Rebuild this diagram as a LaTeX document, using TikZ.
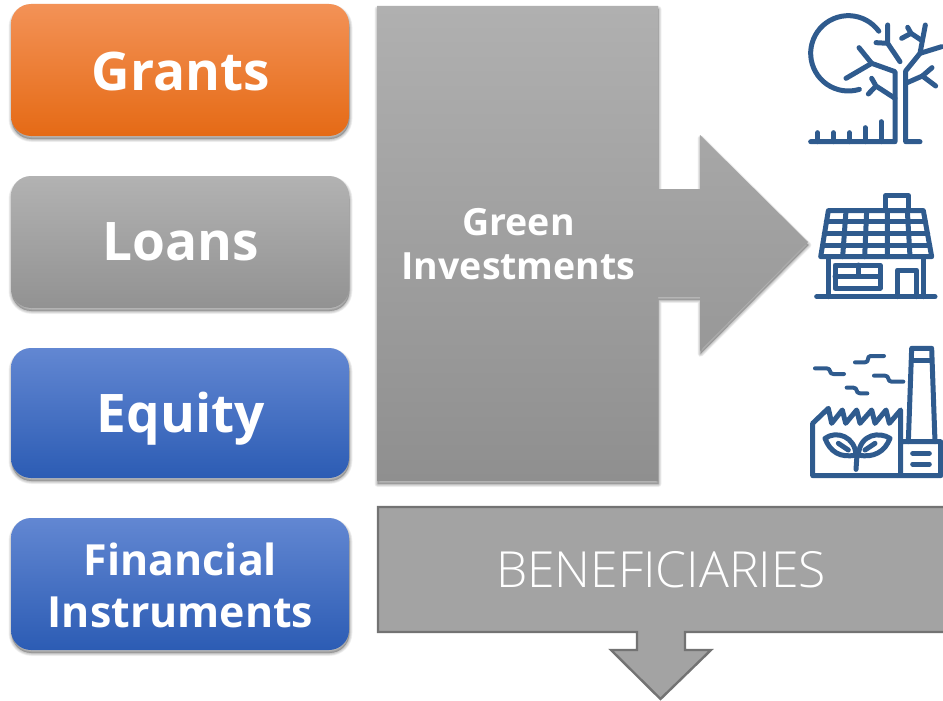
\documentclass[tikz,border=0pt]{standalone}
\usepackage{fontspec}
\setmainfont{Open Sans}
\newfontfamily\lightfont{Open Sans Light}
\usetikzlibrary{shapes.misc}
\definecolor{iconblue}{HTML}{2F5B8E}
\newcommand{\softshadow}[1]{%
  \foreach \w in {1,2,3,4,5,6}{
    \path[fill=black,draw=black,fill opacity=.045,draw opacity=.045,line width=\w pt,line join=round,yshift=-3pt,xshift=0.5pt] #1;
  }}
\tikzset{
  fund/.style={rounded corners=20pt,minimum width=338pt,text=white,font=\bfseries,align=center,inner sep=0pt},
  orangefill/.style={top color=F1,middle color=F2,bottom color=F3},
  greyfill/.style={top color=G1,middle color=G2,bottom color=G3},
  bluefill/.style={top color=B1,middle color=B2,bottom color=B3},
  icon/.style={draw=iconblue,line width=5pt,line cap=round,line join=round},
  iconz/.style={x=1pt,y=-1pt,scale=1/3},
  thinicon/.style={icon,line width=4pt},
}
\definecolor{F1}{HTML}{F39257}\definecolor{F2}{HTML}{F67F26}\definecolor{F3}{HTML}{E56A15}
\definecolor{G1}{HTML}{B2B2B2}\definecolor{G2}{HTML}{A5A5A5}\definecolor{G3}{HTML}{929292}
\definecolor{B1}{HTML}{6287D2}\definecolor{B2}{HTML}{4472C4}\definecolor{B3}{HTML}{2C5CB4}
\definecolor{A1}{HTML}{B0B0B0}\definecolor{A2}{HTML}{8F8F8F}
\begin{document}
\begin{tikzpicture}[x=1pt,y=-1pt]
\useasboundingbox (0,0) rectangle (943,701);
% shadows
\softshadow{[rounded corners=20pt] (11,4) rectangle (349,136)}
\softshadow{[rounded corners=20pt] (11,176) rectangle (349,308)}
\softshadow{[rounded corners=20pt] (11,348) rectangle (349,478)}
\softshadow{[rounded corners=20pt] (11,518) rectangle (349,650)}
\softshadow{(377,6) -- (658,6) -- (658,189) -- (700,189) -- (700,135) -- (808,242) -- (700,351) -- (700,297) -- (658,297) -- (658,481) -- (377,481) -- cycle}
% funding boxes
\node[fund,orangefill,minimum height=132pt] (grants) at (180,70) {};
\node[fund,greyfill,minimum height=132pt] (loans) at (180,242) {};
\node[fund,bluefill,minimum height=130pt] (equity) at (180,413) {};
\node[fund,bluefill,minimum height=132pt] (fin) at (180,584) {};
\node[text=white,inner sep=0pt,font=\bfseries\fontsize{53.2}{60}\selectfont] (grantst) at (181,71) {Grants};
\node[text=white,inner sep=0pt,font=\bfseries\fontsize{53.2}{60}\selectfont] (loanst) at (181,242) {Loans};
\node[text=white,inner sep=0pt,font=\bfseries\fontsize{53.2}{60}\selectfont] (equityt) at (181,419) {Equity};
\node[text=white,align=center,inner sep=0pt,font=\bfseries\fontsize{42.9}{52}\selectfont] (fint) at (180.5,585) {Financial\\Instruments};
% big arrow
\shade[top color=A1,bottom color=A2] (377,6) -- (658,6) -- (658,189) -- (700,189) -- (700,135) -- (808,242) -- (700,351) -- (700,297) -- (658,297) -- (658,481) -- (377,481) -- cycle;
\node[text=white,align=center,inner sep=0pt,font=\bfseries\fontsize{37.5}{44}\selectfont] (green) at (518.5,244) {Green\\Investments};
% beneficiaries
\filldraw[fill=black!36,draw=black!55,line width=2.4pt,line join=miter] (378,507) -- (945,507) -- (945,632) -- (685,632) -- (685,650) -- (711,650) -- (660.5,699) -- (611,650) -- (637,650) -- (637,632) -- (378,632) -- cycle;
\node[text=white,inner sep=0pt,font=\lightfont\fontsize{49.8}{54}\selectfont] (benef) at (661,570) {BENEFICIARIES};
% tree
\begin{scope}[shift={(780,0)},iconz]
\draw[icon] plot[smooth,domain=-36:-287,samples=40] ({205+113*cos(\x)},{160+113*sin(\x)});
\draw[icon] (92,425) -- (345,425) -- (345,215) -- (275,190) -- (237,143);
\draw[icon] (275,190) -- (198,235);
\draw[icon] (345,295) -- (288,258) -- (275,235);
\draw[icon] (288,258) -- (265,282);
\draw[icon] (113,425) -- (113,398) (160,425) -- (160,398) (208,425) -- (208,398) (255,425) -- (255,383) (303,425) -- (303,365);
\draw[icon] (420,425) -- (377,425) -- (377,213) -- (420,160) -- (436,75);
\draw[icon] (420,160) -- (485,140);
\draw[icon] (423,120) -- (393,100) -- (383,82);
\draw[icon] (393,100) -- (365,115);
\draw[icon] (377,250) -- (427,228) -- (456,203);
\draw[icon] (427,228) -- (467,258);
\draw[icon] (323,75) -- (323,130) -- (360,185);
\draw[icon] (323,130) -- (288,128);
\end{scope}
% house
\begin{scope}[shift={(780,180)},iconz]
\draw[icon] (317,90) -- (317,47) -- (385,47) -- (385,90);
\draw[icon] (145,92) -- (430,92) -- (455,230) -- (122,230) -- cycle;
\draw[icon] (139,125) -- (436,125) (133,160) -- (443,160) (128,195) -- (449,195);
\draw[icon] (198,92) -- (188,230) (260,92) -- (254,230) (322,92) -- (322,230) (382,92) -- (390,230);
\draw[icon] (145,232) -- (145,350) (430,232) -- (430,350);
\draw[icon] (110,350) -- (465,350);
\draw[icon] (165,255) rectangle (300,325);
\draw[icon] (165,288) -- (300,288) (235,255) -- (235,288);
\draw[icon] (352,350) -- (352,270) -- (410,270) -- (410,350);
\end{scope}
% factory
\begin{scope}[shift={(780,340)},iconz]
\draw[icon] (385,305) -- (395,25) -- (455,25) -- (465,305);
\draw[icon] (398,60) -- (452,60);
\draw[icon] (362,305) -- (482,305) -- (482,407) -- (98,407) -- (98,250) -- (145,205) -- (155,250) -- (187,210) -- (197,250) -- (230,210) -- (240,250) -- (275,210) -- (285,250) -- (318,210) -- (328,250) -- (362,210) -- (362,407);
\draw[icon] (398,340) -- (448,340) (398,372) -- (448,372);
\draw[thinicon] (105,85) -- (140,85) .. controls (155,85) and (145,102) .. (160,102) -- (192,102);
\draw[thinicon] (225,67) -- (255,67) .. controls (270,67) and (258,48) .. (272,48) -- (312,48);
\draw[thinicon] (282,107) -- (315,107) .. controls (330,107) and (320,125) .. (335,125) -- (370,125);
\draw[thinicon] (200,143) -- (220,143) .. controls (235,143) and (225,160) .. (240,160) -- (262,160);
\draw[icon] (135,295) .. controls (170,270) and (225,290) .. (228,345) .. controls (180,355) and (150,335) .. (135,295) -- cycle;
\draw[icon] (330,295) .. controls (300,275) and (240,280) .. (235,345) .. controls (280,355) and (315,335) .. (330,295) -- cycle;
\draw[icon] (175,310) -- (205,330) (285,310) -- (255,330);
\draw[icon] (231,345) -- (228,388);
\end{scope}
\end{tikzpicture}
\end{document}
